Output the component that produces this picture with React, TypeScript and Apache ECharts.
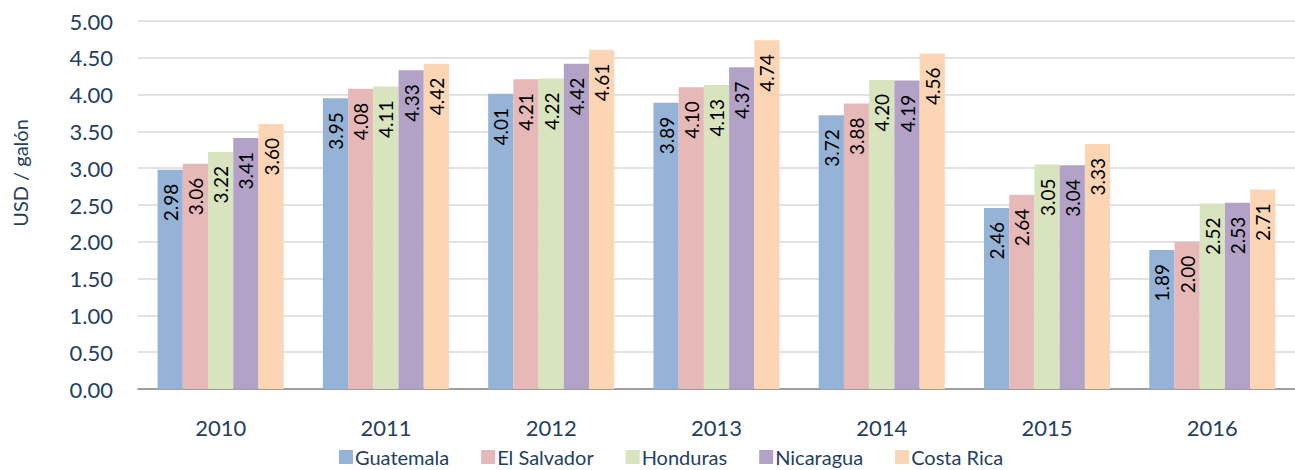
import React, { useEffect, useRef } from "react";
import * as echarts from "echarts";

const years = ["2010", "2011", "2012", "2013", "2014", "2015", "2016"];
const countries = ["Guatemala", "El Salvador", "Honduras", "Nicaragua", "Costa Rica"];
const colors = ["#95B3D7", "#E6B9B8", "#D7E4BD", "#B3A2C7", "#FCD5B5"];
const guatemala = [2.98, 3.95, 4.01, 3.89, 3.72, 2.46, 1.89];
const elSalvador = [3.06, 4.08, 4.21, 4.10, 3.88, 2.64, 2.00];
const honduras = [3.22, 4.11, 4.22, 4.13, 4.20, 3.05, 2.52];
const nicaragua = [3.41, 4.33, 4.42, 4.37, 4.19, 3.04, 2.53];
const costaRica = [3.60, 4.42, 4.61, 4.74, 4.56, 3.33, 2.71];
const seriesData = [guatemala, elSalvador, honduras, nicaragua, costaRica];
const yTicks = { min: 0, max: 5, interval: 0.5 };
const yTitle = "USD / galón";

const FONT = "Lato, 'Open Sans', sans-serif";
const AXIS_COLOR = "#243F60";

export default function App() {
  const ref = useRef<HTMLDivElement>(null);
  useEffect(() => {
    if (!ref.current) return;
    const chart = echarts.init(ref.current, null, { renderer: "svg" });
    chart.setOption({
      animation: false,
      textStyle: { fontFamily: FONT },
      grid: { left: 138, right: -12, top: 21, bottom: 81, containLabel: false },
      legend: {
        bottom: -2,
        left: 334,
        itemWidth: 14,
        itemHeight: 14,
        itemGap: 32,
        icon: "rect",
        textStyle: { fontSize: 20, color: AXIS_COLOR, fontFamily: FONT, padding: [0, 0, 0, -3] },
        data: countries,
      },
      graphic: [
        {
          type: "text",
          x: 20,
          y: 173,
          rotation: Math.PI / 2,
          style: {
            text: yTitle,
            fill: AXIS_COLOR,
            font: `20px ${FONT}`,
            align: "center",
            verticalAlign: "middle",
          },
        },
      ],
      xAxis: {
        type: "category",
        data: years,
        axisLine: { lineStyle: { color: "#868686", width: 1.5 } },
        axisTick: { show: false },
        axisLabel: { fontSize: 22, color: AXIS_COLOR, margin: 27, fontFamily: FONT },
      },
      yAxis: {
        type: "value",
        min: yTicks.min,
        max: yTicks.max,
        interval: yTicks.interval,
        axisLine: { show: false },
        axisTick: { show: false },
        axisLabel: {
          fontSize: 22,
          color: AXIS_COLOR,
          margin: 25,
          fontFamily: FONT,
          formatter: (v: number) => v.toFixed(2),
        },
        splitLine: { lineStyle: { color: "#D9D9D9", width: 1.5 } },
      },
      series: countries.map((name, i) => ({
        name,
        type: "bar",
        data: seriesData[i],
        barGap: "0%",
        barCategoryGap: "23.7%",
        itemStyle: { color: colors[i] },
        label: {
          show: true,
          position: "insideTop",
          rotate: 90,
          align: "right",
          verticalAlign: "middle",
          distance: 14,
          fontSize: 19,
          color: "#000",
          fontFamily: FONT,
          formatter: (p: any) => Number(p.value).toFixed(2),
        },
      })),
    });
    return () => chart.dispose();
  }, []);
  return (
    <div
      ref={ref}
      style={{ position: "absolute", left: 0, top: 0, width: 1295, height: 470 }}
    />
  );
}
